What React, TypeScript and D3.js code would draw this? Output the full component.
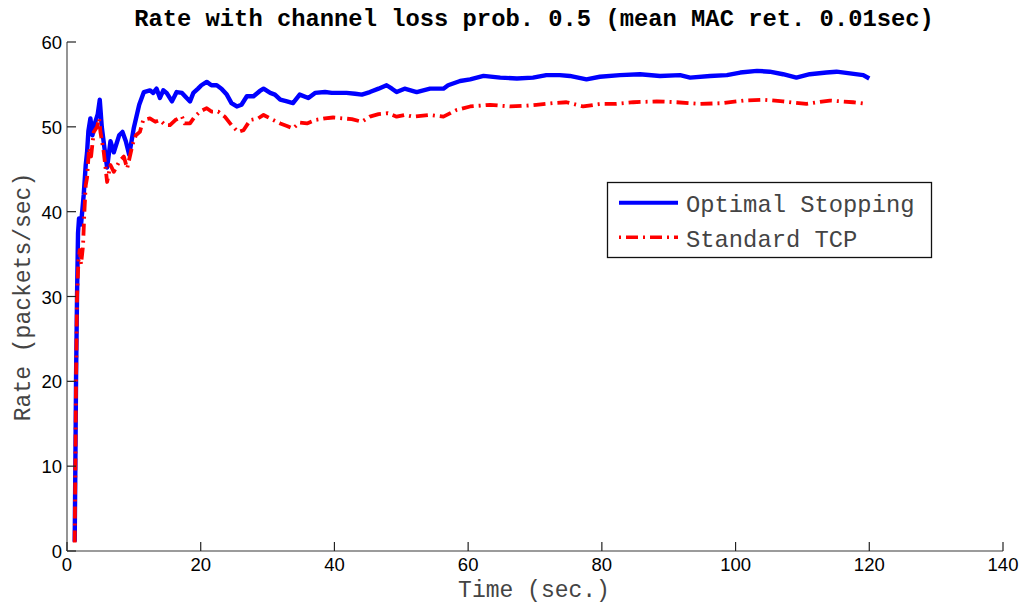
import React from "react";
import * as d3 from "d3";

const xTicks = [0, 20, 40, 60, 80, 100, 120, 140];
const yTicks = [0, 10, 20, 30, 40, 50, 60];

const optT = [1.15,1.25,1.35,1.5,1.65,1.8,2.1,2.5,2.8,3.0,3.2,3.5,3.8,4.2,4.6,4.9,5.2,5.6,6.0,6.5,7.0,7.8,8.3,8.8,9.3,10.0,10.8,11.5,12.4,12.9,13.4,13.9,14.4,14.9,15.7,16.4,17.2,17.9,18.4,18.9,19.6,20.1,20.9,21.6,22.4,23.1,23.9,24.6,25.4,26.1,26.9,27.9,28.8,29.4,30.4,31.1,31.9,32.9,33.8,34.8,36.1,37.1,38.6,39.6,40.6,41.8,43.1,44.1,45.3,46.6,47.8,48.6,49.3,50.5,52.3,54.3,56.3,57.0,58.8,60.3,62.3,64.8,67.3,69.7,71.7,73.7,75.2,77.7,79.7,82.7,85.7,88.7,91.7,93.2,96.2,98.7,100.7,103.2,105.1,107.1,109.1,111.1,113.6,115.1,117.1,119.1,120];
const optV = [1.1,10,20,30,37.5,39.2,38.5,42,45.5,47,49.5,51,49,50.5,51.5,53.2,50,47.5,45.2,48.3,47,49,49.4,48.3,46.7,49.9,52.6,54.1,54.3,54,54.5,53.4,54.3,54,53,54.1,54,53.4,53,54,54.5,54.9,55.3,54.9,54.9,54.5,53.8,52.8,52.4,52.6,53.6,53.6,54.2,54.5,54,53.8,53.2,53,52.8,53.8,53.4,54,54.1,54,54,54,53.9,53.8,54.1,54.5,54.9,54.5,54.1,54.5,54.1,54.5,54.5,54.9,55.4,55.6,56,55.8,55.7,55.8,56.1,56.1,56,55.6,55.9,56.1,56.2,56,56.1,55.8,56,56.1,56.4,56.6,56.5,56.2,55.8,56.2,56.4,56.5,56.3,56.1,55.7];

const tcpT = [1.15,1.25,1.35,1.5,1.7,1.9,2.1,2.4,2.6,2.8,3.0,3.3,3.6,4.0,4.5,4.8,5.0,5.5,6.0,6.5,7.0,7.8,8.5,9.0,9.8,10.3,10.9,11.4,12.4,13.2,13.9,14.7,15.4,16.2,17.2,17.6,18.4,19.1,19.9,20.9,21.6,22.6,23.6,24.6,25.6,26.4,27.4,28.6,29.4,30.6,31.9,32.9,33.8,34.8,35.9,37.1,38.6,39.8,41.3,42.6,44.1,45.3,46.6,48,49.3,50.5,51.8,54.3,56.3,58.3,60.3,63.3,66.3,68.8,70.2,72.7,74.7,77.2,79.7,82,84.7,88.2,91.2,94.7,98.2,101.2,104.1,107.1,110.6,114.1,117.6,119.6];
const tcpV = [1.0,10,20,30,34,35.5,33.8,36,40,43.1,44,47.5,46.5,49.4,50,51,49.4,47,43.5,45.5,44.7,45.9,46.5,45.1,47.9,49,49.4,50.8,51,50.6,50.8,50.2,50.2,50.8,51.2,50.4,50.4,51.2,51.8,52.2,51.8,51.8,51.2,50.2,49.4,49.6,50.8,51,51.4,50.9,50.4,50.1,49.8,50.5,50.4,50.8,51,51.1,51,50.9,50.6,51.2,51.5,51.6,51.2,51.4,51.2,51.4,51.2,52,52.4,52.6,52.4,52.5,52.6,52.8,52.9,52.4,52.7,52.7,52.9,53,52.9,52.7,52.8,53.1,53.2,53,52.7,53.1,52.9,52.7];

const seriesNames = ["Optimal Stopping", "Standard TCP"];
const title = "Rate with channel loss prob. 0.5 (mean MAC ret. 0.01sec)";
const xLabel = "Time (sec.)";
const yLabel = "Rate (packets/sec)";

const W = 1027, H = 607;
const L = 67, R = 1003, T = 42, B = 551;

export default function App() {
  const x = d3.scaleLinear().domain([0, 140]).range([L, R]);
  const y = d3.scaleLinear().domain([0, 60]).range([B, T]);
  const line = d3.line<[number, number]>().x(d => x(d[0])).y(d => y(d[1]));
  const optPts = optT.map((t, i) => [t, optV[i]] as [number, number]);
  const tcpPts = tcpT.map((t, i) => [t, tcpV[i]] as [number, number]);
  const mono = "'Liberation Mono', 'Courier New', monospace";
  const sans = "'Liberation Sans', Arial, sans-serif";
  return (
    <svg width={W} height={H} style={{ position: "absolute", left: 0, top: 0, background: "#fff" }}>
      <rect x={0} y={0} width={W} height={H} fill="#fff" />
      <text x={534} y={26} textAnchor="middle" fontFamily={mono} fontWeight="bold" fontSize={23.8} fill="#000">{title}</text>
      <path d={line(optPts) || ""} fill="none" stroke="#0000ff" strokeWidth={4.4} strokeLinejoin="round" />
      <path d={line(tcpPts) || ""} fill="none" stroke="#ff0000" strokeWidth={3.8} strokeDasharray="12 5 2 5" strokeLinejoin="round" />
      <line x1={L} y1={T} x2={L} y2={B} stroke="#7a7a7a" strokeWidth={1.6} />
      <line x1={L} y1={B} x2={R} y2={B} stroke="#7a7a7a" strokeWidth={1.6} />
      {yTicks.map(v => (
        <g key={"y" + v}>
          <line x1={L} x2={L + 9} y1={y(v)} y2={y(v)} stroke="#222" strokeWidth={1.2} />
          <text x={62} y={y(v) + 7} textAnchor="end" fontFamily={sans} fontSize={18.5} fill="#000">{v}</text>
        </g>
      ))}
      {xTicks.map(v => (
        <g key={"x" + v}>
          <line x1={x(v)} x2={x(v)} y1={B} y2={B - 9} stroke="#222" strokeWidth={1.2} />
          <text x={x(v)} y={571} textAnchor="middle" fontFamily={sans} fontSize={18.5} fill="#000">{v}</text>
        </g>
      ))}
      <text x={534} y={597} textAnchor="middle" fontFamily={mono} fontSize={23} fill="#444">{xLabel}</text>
      <text transform={`translate(30,297) rotate(-90)`} textAnchor="middle" fontFamily={mono} fontSize={23} fill="#444">{yLabel}</text>
      <rect x={607.5} y={182.5} width={324} height={75} fill="#fff" stroke="#111" strokeWidth={1.3} />
      <line x1={619} x2={678} y1={202.7} y2={202.7} stroke="#0000ff" strokeWidth={4} />
      <text x={686} y={211.5} fontFamily={mono} fontSize={23.8} fill="#444">{seriesNames[0]}</text>
      <line x1={619} x2={678} y1={237.3} y2={237.3} stroke="#ff0000" strokeWidth={3.6} strokeDasharray="2 5 12 5" />
      <text x={686} y={246.5} fontFamily={mono} fontSize={23.8} fill="#444">{seriesNames[1]}</text>
    </svg>
  );
}
